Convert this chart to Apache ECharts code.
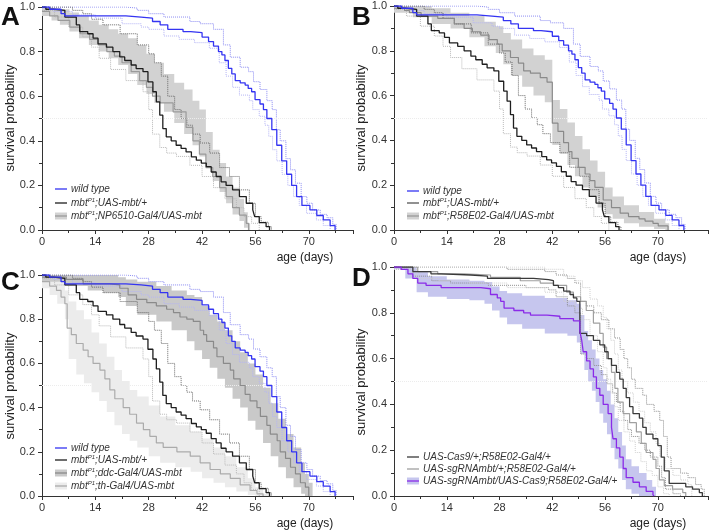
<!DOCTYPE html>
<html><head><meta charset="utf-8">
<script src="https://cdn.jsdelivr.net/npm/echarts@6/dist/echarts.min.js"></script>
<style>html,body{margin:0;padding:0;background:#fff}#c{width:711px;height:532px}</style>
</head><body><div id="c"></div>
<script>
// ---------- data ----------
const xTickLabels = [0, 14, 28, 42, 56, 70];
const yTickLabels = [0.0, 0.2, 0.4, 0.6, 0.8, 1.0];

// shared controls (panels A, B, C)
const wildType = [[0,1],[2,0.99],[5,0.97],[6,0.96],[22,0.955],[26,0.95],[29,0.935],[31,0.92],[33,0.9],[37,0.89],[39,0.885],[42,0.865],[43.7,0.845],[45,0.825],[46.3,0.8],[47.2,0.785],[48,0.76],[48.9,0.725],[49.8,0.7],[50.7,0.67],[52,0.66],[53.3,0.65],[54.1,0.635],[55,0.62],[55.9,0.585],[57.2,0.565],[58.1,0.54],[59,0.5],[60.3,0.45],[61.6,0.38],[62.9,0.31],[64.2,0.25],[65.5,0.2],[66.8,0.15],[68.2,0.11],[70.3,0.09],[72.1,0.065],[73.8,0.045],[75.6,0.02],[76.9,0]];
const wildTypeHi = [[0,1],[10,1],[22,0.995],[25,0.985],[28,0.97],[32,0.955],[38.8,0.935],[41.5,0.925],[45,0.9],[47.6,0.83],[49.4,0.775],[52,0.73],[54.2,0.71],[55.5,0.665],[57.2,0.63],[59,0.58],[60.4,0.54],[61.5,0.45],[62.5,0.4],[64,0.32],[65.2,0.27],[66.5,0.21],[68,0.15],[69.5,0.12],[71,0.09],[73,0.07],[74.8,0.055],[76.3,0.025],[77.2,0]];
const wildTypeLo = [[0,0.995],[3,0.98],[8,0.965],[14,0.95],[21,0.925],[26,0.91],[28,0.9],[32,0.87],[36,0.855],[40,0.84],[43.9,0.815],[46.5,0.75],[48.3,0.69],[50,0.64],[51.8,0.605],[54.4,0.58],[55.3,0.54],[57,0.51],[58.5,0.47],[59.5,0.42],[60.5,0.36],[61.6,0.31],[63,0.25],[64.5,0.2],[66,0.15],[67.5,0.11],[69.4,0.075],[72,0.045],[73.8,0.02],[75.6,0]];

const mbtUas = [[0,1],[1,0.99],[3,0.985],[6,0.955],[9,0.92],[9.9,0.89],[12,0.88],[13.4,0.86],[14.7,0.835],[16.9,0.82],[18.6,0.8],[20.4,0.776],[21.7,0.76],[23.4,0.74],[24.7,0.724],[26.5,0.71],[27.8,0.664],[29.1,0.62],[30,0.575],[30.9,0.515],[31.7,0.455],[32.6,0.418],[33.9,0.4],[35.2,0.38],[36.5,0.366],[37.8,0.35],[39.2,0.328],[40.5,0.313],[41.8,0.3],[43.1,0.284],[44.4,0.26],[45.7,0.24],[47,0.216],[48.3,0.2],[50,0.18],[51.8,0.15],[53.6,0.12],[55.3,0.09],[55.8,0.06],[57,0.033],[58.8,0.015],[59.7,0]];
const mbtUasHi = [[0,1],[4,1],[8,0.985],[10.7,0.97],[13,0.945],[16,0.92],[20.5,0.88],[25,0.83],[28,0.79],[29.5,0.75],[31.3,0.69],[33,0.6],[34.8,0.54],[36.5,0.5],[38,0.47],[39.5,0.43],[41.5,0.39],[44,0.345],[46.6,0.28],[49.2,0.24],[51.8,0.18],[54.4,0.12],[56,0.06],[57.5,0.035],[59.4,0.015],[60.2,0]];
const mbtUasLo = [[0,0.985],[3.3,0.955],[7,0.91],[10.7,0.866],[13,0.82],[15,0.77],[18,0.72],[22,0.67],[26.5,0.62],[28,0.54],[29,0.43],[30.9,0.37],[32.7,0.345],[35.3,0.33],[38.8,0.29],[42,0.24],[45,0.19],[48,0.14],[51,0.1],[53,0.06],[55,0.03],[57,0]];

// panel A
const np6510 = [[0,0.98],[2,0.96],[4.2,0.94],[7.3,0.91],[10,0.88],[12.5,0.855],[14.7,0.83],[17,0.8],[19,0.78],[21,0.75],[23.4,0.71],[25.6,0.67],[27.4,0.64],[29,0.6],[31,0.57],[34.4,0.53],[37.8,0.46],[39.6,0.4],[41.3,0.34],[43,0.28],[44.8,0.24],[46.6,0.19],[48.3,0.15],[50,0.1],[51.8,0.067],[53.6,0.03],[54.2,0]];
const np6510Band = [[0,0.96,1],[2.5,0.94,0.995],[4.7,0.92,0.99],[7.2,0.89,0.975],[9.7,0.86,0.96],[12.3,0.83,0.94],[14.9,0.8,0.92],[17.5,0.77,0.9],[20,0.74,0.88],[22.6,0.7,0.86],[25,0.65,0.83],[27.4,0.61,0.79],[29.5,0.57,0.75],[32,0.53,0.7],[34.7,0.48,0.66],[37.3,0.43,0.63],[39.5,0.38,0.58],[41.3,0.33,0.54],[43,0.28,0.44],[44.8,0.22,0.36],[46.6,0.17,0.3],[48.3,0.12,0.24],[50,0.07,0.19],[51.8,0.04,0.14],[53,0.01,0.08],[54,0,0.03],[54.6,0,0]];

// panel B
const r58e02 = [[0,0.99],[2.8,0.98],[4.1,0.97],[7.2,0.955],[11.6,0.945],[16,0.92],[18.6,0.9],[20.8,0.885],[23,0.87],[25.2,0.85],[27.4,0.83],[28.7,0.8],[30.9,0.77],[33,0.745],[34.4,0.71],[36.2,0.7],[38.8,0.68],[40.6,0.66],[42,0.477],[43.5,0.44],[45,0.39],[46.3,0.35],[47.2,0.32],[48.9,0.28],[50.7,0.25],[52,0.22],[53.3,0.19],[55.5,0.134],[57.7,0.1],[60,0.075],[62.2,0.06],[65,0.05],[66.6,0.04],[68.7,0.03],[70.1,0.018],[72.7,0]];
const r58e02Band = [[0,0.97,1],[5,0.95,1],[10,0.92,0.99],[15,0.9,0.97],[20,0.86,0.955],[24,0.82,0.93],[27,0.79,0.91],[29,0.74,0.88],[31,0.69,0.85],[34,0.64,0.81],[37,0.6,0.78],[40,0.57,0.76],[42,0.38,0.58],[44,0.34,0.54],[46,0.29,0.48],[48,0.24,0.42],[50,0.19,0.36],[52,0.15,0.31],[54,0.1,0.26],[56,0.07,0.19],[58,0.05,0.15],[61,0.03,0.11],[65,0.015,0.08],[69,0.005,0.05],[72,0,0.03],[73,0,0]];

// panel C
const ddc = [[0,0.99],[6.4,0.98],[10.8,0.96],[17.8,0.955],[20.4,0.94],[22.6,0.91],[24.8,0.89],[27.5,0.875],[30,0.86],[32.7,0.845],[34.5,0.83],[36.2,0.81],[38,0.8],[39.7,0.79],[41.5,0.75],[42.4,0.73],[43.2,0.7],[45,0.67],[45.9,0.63],[47.6,0.6],[49.4,0.57],[50.3,0.53],[52,0.5],[53.3,0.46],[54.6,0.43],[56.4,0.4],[57.3,0.36],[59,0.32],[59.9,0.28],[61.7,0.25],[62.5,0.2],[63.9,0.17],[65.2,0.13],[66.5,0.1],[67.8,0.06],[69.1,0.04],[70,0]];
const ddcBand = [[0,0.97,1],[6,0.95,1],[12,0.93,1],[16,0.92,1],[20,0.9,0.99],[22,0.86,0.98],[25,0.82,0.97],[30,0.79,0.95],[34,0.75,0.93],[38,0.7,0.91],[40,0.66,0.9],[42,0.62,0.86],[44,0.58,0.82],[46,0.53,0.79],[48,0.49,0.75],[50,0.44,0.7],[52,0.4,0.65],[54,0.34,0.6],[56,0.3,0.55],[58,0.24,0.49],[60,0.18,0.42],[62,0.13,0.35],[64,0.08,0.28],[66,0.04,0.22],[68,0.01,0.15],[69,0,0.1],[70,0,0.06],[71,0,0]];
const thGal4 = [[0,0.97],[2,0.95],[3.8,0.93],[5,0.9],[6,0.87],[6.6,0.76],[7.7,0.73],[9,0.69],[10.8,0.66],[12.1,0.63],[13.4,0.6],[15.2,0.57],[16.5,0.53],[17.8,0.48],[19.1,0.44],[21.3,0.4],[23,0.37],[24.8,0.33],[26.6,0.3],[28.3,0.27],[30,0.24],[31.8,0.22],[35.4,0.2],[38.9,0.18],[41.5,0.15],[44.1,0.12],[46.8,0.1],[49.4,0.08],[52,0.05],[54.6,0.025],[56.4,0.01],[58,0]];
const thGal4Band = [[0,0.94,1],[2,0.91,0.99],[4,0.87,0.97],[6,0.8,0.93],[7,0.62,0.88],[9,0.55,0.84],[11,0.51,0.8],[13,0.47,0.74],[15,0.43,0.69],[17,0.38,0.63],[19,0.32,0.57],[21,0.28,0.52],[23,0.25,0.48],[25,0.22,0.45],[28,0.18,0.41],[31,0.15,0.36],[35,0.13,0.32],[39,0.11,0.29],[42,0.08,0.26],[45,0.06,0.22],[48,0.04,0.18],[51,0.02,0.13],[54,0.005,0.08],[56,0,0.04],[58,0,0.01],[60,0,0]];

// panel D
const cas9 = [[0,1],[5,0.98],[9.8,0.97],[12.5,0.965],[20.4,0.96],[24.8,0.95],[37,0.945],[41,0.94],[42.3,0.92],[43.6,0.91],[45,0.895],[46.7,0.88],[47.6,0.865],[48.5,0.85],[49.3,0.71],[51.1,0.7],[52.9,0.68],[54.6,0.66],[55.9,0.63],[56.8,0.6],[57.7,0.57],[59,0.54],[59.9,0.51],[60.8,0.47],[61.6,0.43],[62.5,0.39],[63.4,0.36],[65.1,0.34],[66,0.3],[66.9,0.27],[68.7,0.25],[70,0.22],[70.9,0.17],[71.7,0.11],[73,0.055],[77.4,0.04],[79.2,0.03],[81,0.015],[81.8,0]];
const cas9Hi = [[0,1],[20,1],[30,0.99],[40,0.98],[43,0.965],[46,0.95],[48,0.93],[49.5,0.85],[51,0.83],[53,0.8],[55,0.77],[57,0.73],[58.5,0.69],[60,0.64],[61,0.6],[62,0.56],[63,0.51],[64,0.47],[66,0.44],[67,0.4],[69,0.37],[70.5,0.33],[71.5,0.26],[72.5,0.17],[73.5,0.12],[76,0.1],[78,0.08],[80,0.05],[81.5,0.03],[82.3,0]];
const cas9Lo = [[0,0.99],[5,0.96],[10,0.94],[15,0.93],[25,0.92],[35,0.91],[41,0.9],[43,0.87],[46,0.83],[48,0.8],[49.5,0.62],[51,0.6],[53,0.57],[55,0.53],[56.5,0.49],[58,0.45],[59,0.41],[60,0.37],[61,0.33],[62,0.29],[63,0.26],[65,0.23],[66.5,0.2],[68,0.17],[70,0.13],[71,0.08],[72,0.03],[74,0.01],[76,0]];
const sgRna = [[0,1],[6.3,0.98],[11.6,0.97],[18.6,0.965],[25.6,0.955],[33.5,0.94],[38.8,0.93],[42.3,0.92],[45.8,0.89],[47.6,0.87],[49.5,0.85],[51,0.81],[52.9,0.755],[54.6,0.71],[55.5,0.65],[56.4,0.6],[57.7,0.54],[58.6,0.47],[59.4,0.41],[60.8,0.36],[62.5,0.32],[64.3,0.28],[65.6,0.23],[66.9,0.19],[68.7,0.16],[69.5,0.12],[70.4,0.07],[71.7,0.045],[73.9,0.03],[76.6,0.015],[77.4,0]];
const sgRnaHi = [[0,1],[30,1],[40,0.99],[45,0.96],[48,0.94],[50,0.91],[52,0.86],[54,0.83],[55.5,0.78],[56.5,0.73],[57.5,0.68],[58.5,0.62],[59.5,0.55],[60.5,0.5],[62,0.45],[63.5,0.41],[65,0.37],[66.5,0.32],[68,0.28],[69.5,0.23],[70.5,0.17],[72,0.12],[74,0.09],[76,0.07],[78,0.05],[79,0]];
const sgRnaLo = [[0,0.99],[6,0.95],[12,0.94],[20,0.93],[30,0.91],[40,0.89],[45,0.85],[48,0.82],[50,0.77],[52,0.7],[54,0.63],[55.5,0.56],[56.5,0.51],[57.5,0.45],[58.5,0.39],[59.5,0.33],[61,0.28],[62.5,0.24],[64,0.19],[65.5,0.15],[67,0.11],[68.5,0.09],[70,0.04],[71.5,0.01],[73,0]];
const knockout = [[0,1],[1.9,0.99],[3.7,0.97],[5,0.95],[6.3,0.93],[8.5,0.92],[12.5,0.91],[23,0.905],[25.6,0.88],[27.4,0.865],[28.3,0.85],[29.2,0.82],[31.8,0.81],[34.4,0.8],[36.2,0.79],[40.6,0.785],[44,0.775],[47.6,0.765],[49.3,0.72],[49.8,0.68],[50.2,0.63],[51.1,0.59],[52,0.555],[52.9,0.52],[53.7,0.47],[54.6,0.44],[55.5,0.4],[56.8,0.36],[57.7,0.3],[58.1,0.25],[59,0.21],[59.9,0.17],[60.8,0.12],[61.6,0.08],[63.4,0.06],[65.1,0.04],[66.9,0.02],[68.7,0.005],[69,0]];
const knockoutBand = [[0,0.99,1],[3,0.95,1],[6,0.89,0.98],[9,0.87,0.96],[14,0.86,0.945],[20,0.855,0.94],[24,0.84,0.935],[26,0.81,0.915],[28,0.78,0.895],[30,0.75,0.885],[34,0.73,0.875],[40,0.71,0.865],[46,0.7,0.855],[48.5,0.67,0.84],[49.5,0.62,0.79],[50.5,0.55,0.72],[51.5,0.5,0.68],[52.5,0.46,0.64],[53.5,0.41,0.6],[54.5,0.36,0.55],[55.5,0.32,0.51],[56.5,0.27,0.46],[57.5,0.21,0.4],[58.5,0.16,0.34],[59.5,0.12,0.28],[60.5,0.07,0.22],[61.5,0.03,0.16],[63,0.01,0.13],[65,0,0.1],[67,0,0.07],[68.5,0,0.04],[69.5,0,0]];

// ---------- chart ----------
const FONT = '"Liberation Sans", Arial, sans-serif';
const grids = [
  {left:42, top:7, width:311, height:223, xMax:81.6},
  {left:394, top:6, width:314, height:224, xMax:83.3},
  {left:42, top:275, width:311, height:221, xMax:81.6},
  {left:394, top:267, width:314, height:229, xMax:83.3}
];
const chart = echarts.init(document.getElementById('c'), null, {renderer:'canvas'});

const axisLineStyle = {color:'#333', width:1};
const xAxes = grids.map((g,i)=>({
  type:'value', gridIndex:i, min:0, max:g.xMax, interval:14,
  axisLine:{show:true, onZero:false, lineStyle:axisLineStyle},
  axisTick:{show:true, length:4, lineStyle:axisLineStyle},
  minorTick:{show:true, splitNumber:2, length:3, lineStyle:axisLineStyle},
  splitLine:{show:false}, minorSplitLine:{show:false},
  axisLabel:{show:true, showMaxLabel:false, color:'#333', fontSize:11, fontFamily:FONT, margin:6,
    formatter:v=> xTickLabels.indexOf(v)>=0 ? String(v) : ''}
}));
const yAxes = grids.map((g,i)=>({
  type:'value', gridIndex:i, min:0, max:1, interval:0.2,
  axisLine:{show:true, onZero:false, lineStyle:axisLineStyle},
  axisTick:{show:true, length:4, lineStyle:axisLineStyle},
  minorTick:{show:true, splitNumber:2, length:3, lineStyle:axisLineStyle},
  splitLine:{show:false}, minorSplitLine:{show:false},
  axisLabel:{color:'#333', fontSize:11, fontFamily:FONT, margin:7,
    formatter:v=>{const t=yTickLabels.find(y=>Math.abs(y-v)<1e-9); return t===undefined?'':t.toFixed(1);}}
}));

function stepLine(gi, data, color, width, type, z){
  return {type:'line', xAxisIndex:gi, yAxisIndex:gi, data, step:'end', symbol:'none', showSymbol:false,
    silent:true, z:z, lineStyle:{color, width, type}, animation:false};
}
// confidence band drawn as one stepped polygon through the axis scales
function band(gi, arr, color, z){
  return {type:'custom', xAxisIndex:gi, yAxisIndex:gi, z:z, silent:true, clip:true, animation:false,
    data: arr.map(d=>[d[0], d[1], d[2]]), encode:{x:0, y:[1,2]},
    renderItem:(params, api)=>{
      if(params.dataIndex!==0) return null;
      const upper=[], lower=[];
      for(let i=0;i<arr.length;i++){
        const t=arr[i][0], tn = i<arr.length-1 ? arr[i+1][0] : arr[i][0];
        upper.push(api.coord([t,arr[i][2]]), api.coord([tn,arr[i][2]]));
        lower.push(api.coord([t,arr[i][1]]), api.coord([tn,arr[i][1]]));
      }
      return {type:'polygon', shape:{points: upper.concat(lower.reverse())}, style:{fill:color}};
    }};
}
function halfLine(gi){
  return {type:'line', xAxisIndex:gi, yAxisIndex:gi, data:[], symbol:'none', silent:true, z:1,
    markLine:{silent:true, symbol:'none', animation:false, label:{show:false},
      lineStyle:{color:'#ececec', type:'dotted', width:1}, data:[{yAxis:0.5}]}};
}

const C = {
  blue:'#3434f2', blueHi:'#8b8bf2', blueLo:'#b4b4f4',
  black:'#1e1e1e', blackHi:'#6a6a6a', blackLo:'#b8b8b8',
  gray:'#9a9a9a', band:'#d2d2d2',
  ddcLine:'#8a8a8a', ddcBand:'#c9c9c9', thLine:'#ababab', thBand:'#ececec',
  cas:'#3a3a3a', casCI:'#8e8e8e', sg:'#a0a0a0', sgCI:'#cfcfcf',
  purple:'#8a2be8', purpleBand:'#c6c6ee'
};

function controls(gi){
  return [
    stepLine(gi, wildTypeHi, C.blueHi, 1, 'dotted', 4),
    stepLine(gi, wildTypeLo, C.blueLo, 1, 'dotted', 4),
    stepLine(gi, mbtUasHi, C.blackHi, 1, 'dotted', 4),
    stepLine(gi, mbtUasLo, C.blackLo, 1, 'dotted', 4),
  ];
}

const series = [];
[0,1,2,3].forEach(g=>series.push(halfLine(g)));
// A
series.push(band(0, np6510Band, C.band, 2));
series.push(...controls(0));
series.push(stepLine(0, np6510, C.gray, 1.2, 'solid', 6));
series.push(stepLine(0, mbtUas, C.black, 1.3, 'solid', 7));
series.push(stepLine(0, wildType, C.blue, 1.3, 'solid', 8));
// B
series.push(band(1, r58e02Band, C.band, 2));
series.push(...controls(1));
series.push(stepLine(1, r58e02, '#8a8a8a', 1.2, 'solid', 6));
series.push(stepLine(1, mbtUas, C.black, 1.3, 'solid', 7));
series.push(stepLine(1, wildType, C.blue, 1.3, 'solid', 8));
// C
series.push(band(2, thGal4Band, C.thBand, 2));
series.push(band(2, ddcBand, C.ddcBand, 3));
series.push(...controls(2));
series.push(stepLine(2, thGal4, C.thLine, 1.2, 'solid', 6));
series.push(stepLine(2, ddc, C.ddcLine, 1.2, 'solid', 6));
series.push(stepLine(2, mbtUas, C.black, 1.3, 'solid', 7));
series.push(stepLine(2, wildType, C.blue, 1.3, 'solid', 8));
// D
series.push(band(3, knockoutBand, C.purpleBand, 2));
series.push(stepLine(3, cas9Hi, C.casCI, 1, 'dotted', 4));
series.push(stepLine(3, cas9Lo, C.casCI, 1, 'dotted', 4));
series.push(stepLine(3, sgRnaHi, C.sgCI, 1, 'dotted', 4));
series.push(stepLine(3, sgRnaLo, C.sgCI, 1, 'dotted', 4));
series.push(stepLine(3, sgRna, C.sg, 1.2, 'solid', 6));
series.push(stepLine(3, cas9, C.cas, 1.3, 'solid', 7));
series.push(stepLine(3, knockout, C.purple, 1.3, 'solid', 8));

// ---------- text & legends ----------
const rich = {
  i:{fontStyle:'italic', fontSize:10, fontFamily:FONT, fill:'#333'},
  s:{fontStyle:'italic', fontSize:6, fontFamily:FONT, fill:'#333', verticalAlign:'top', padding:[0,0,5,0]}
};
const legends = [
  {x:55, entries:[
    {y:189, kind:'line', color:C.blue, text:'{i|wild type}'},
    {y:203, kind:'line', color:C.black, text:'{i|mbt}{s|P1}{i|;UAS-mbt/+}'},
    {y:216, kind:'band', color:C.gray, fill:C.band, text:'{i|mbt}{s|P1}{i|;NP6510-Gal4/UAS-mbt}'}]},
  {x:407, entries:[
    {y:191, kind:'line', color:C.blue, text:'{i|wild type}'},
    {y:203, kind:'line', color:'#555', text:'{i|mbt}{s|P1}{i|;UAS-mbt/+}'},
    {y:216, kind:'band', color:C.gray, fill:C.band, text:'{i|mbt}{s|P1}{i|;R58E02-Gal4/UAS-mbt}'}]},
  {x:55, entries:[
    {y:448, kind:'line', color:C.blue, text:'{i|wild type}'},
    {y:460, kind:'line', color:C.black, text:'{i|mbt}{s|P1}{i|;UAS-mbt/+}'},
    {y:473, kind:'band', color:C.ddcLine, fill:C.ddcBand, text:'{i|mbt}{s|P1}{i|;ddc-Gal4/UAS-mbt}'},
    {y:486, kind:'band', color:C.thLine, fill:C.thBand, text:'{i|mbt}{s|P1}{i|;th-Gal4/UAS-mbt}'}]},
  {x:407, entries:[
    {y:457, kind:'line', color:C.cas, text:'{i|UAS-Cas9/+;R58E02-Gal4/+}'},
    {y:469, kind:'line', color:C.sg, text:'{i|UAS-sgRNAmbt/+;R58E02-Gal4/+}'},
    {y:481, kind:'band', color:C.purple, fill:C.purpleBand, text:'{i|UAS-sgRNAmbt/UAS-Cas9;R58E02-Gal4/+}'}]}
];
const graphic = [];
legends.forEach(L=>{
  L.entries.forEach(e=>{
    if(e.kind==='band'){
      graphic.push({type:'rect', silent:true, z:100, shape:{x:L.x, y:e.y-3.5, width:12, height:7}, style:{fill:e.fill}});
    }
    graphic.push({type:'line', silent:true, z:101, shape:{x1:L.x, y1:e.y, x2:L.x+12, y2:e.y}, style:{stroke:e.color, lineWidth:1.3}});
    graphic.push({type:'text', silent:true, z:101, x:L.x+16, y:e.y, style:{text:e.text, rich:rich, verticalAlign:'middle', align:'left'}});
  });
});
const panelLetters = [['A',1,5],['B',352,5],['C',1,270],['D',352,266]];
panelLetters.forEach(p=>graphic.push({type:'text', silent:true, z:101, x:p[1], y:p[2],
  style:{text:p[0], font:'bold 26px '+FONT, fill:'#111', verticalAlign:'top'}}));
const xNames = [[305,258],[658,258],[305,524],[658,524]];
xNames.forEach(p=>graphic.push({type:'text', silent:true, z:101, x:p[0], y:p[1],
  style:{text:'age (days)', font:'12px '+FONT, fill:'#222', align:'center', verticalAlign:'middle'}}));
const yNames = [[10,118],[361,118],[10,386],[361,382]];
yNames.forEach(p=>graphic.push({type:'text', silent:true, z:101, x:p[0], y:p[1], rotation:Math.PI/2,
  style:{text:'survival probability', font:'13px '+FONT, fill:'#222', align:'center', verticalAlign:'middle'}}));

chart.setOption({
  animation:false, backgroundColor:'#fff',
  grid: grids.map(g=>({left:g.left, top:g.top, width:g.width, height:g.height, containLabel:false})),
  xAxis:xAxes, yAxis:yAxes, series, graphic
});
</script>
</body></html>
